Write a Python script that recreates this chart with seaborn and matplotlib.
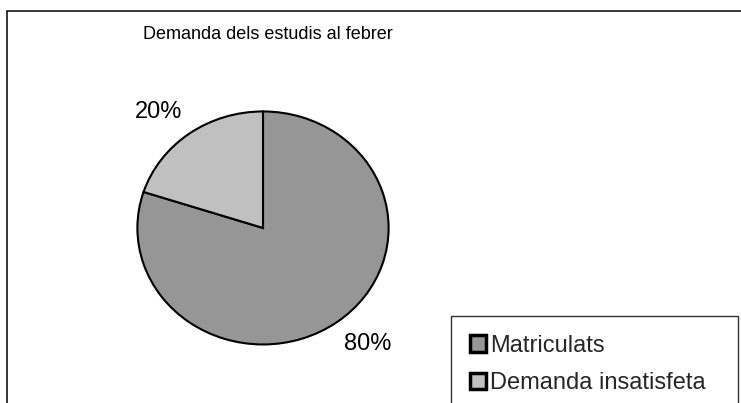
import matplotlib
matplotlib.use('Agg')
import matplotlib.pyplot as plt
import matplotlib.patches as mpatches
import seaborn as sns

# Data
categories = ['Matriculats', 'Demanda insatisfeta']
values = [80, 20]
colors = ['#969696', '#C0C0C0']
title = 'Demanda dels estudis al febrer'

sns.set_theme(style='white')
plt.rcParams['font.family'] = ['Liberation Sans', 'DejaVu Sans']

W, H = 741, 403
fig = plt.figure(figsize=(W / 100, H / 100), dpi=100)

# outer chart border (right and bottom edges fall outside the picture)
fig.patches.append(mpatches.Rectangle((7 / W, -0.1), 2, (H - 11) / H + 0.1,
                                      transform=fig.transFigure, fill=False,
                                      edgecolor='black', linewidth=1.1))

ax = fig.add_axes([106 / W, 0.073, 314 / W, 0.7227])
wedges, texts = ax.pie(values, labels=[f'{v}%' for v in values], colors=colors,
                       startangle=90, counterclock=False, labeldistance=1.1,
                       wedgeprops=dict(edgecolor='black', linewidth=1.5),
                       textprops=dict(fontsize=17, color='black'))
ax.set_aspect('auto')
ax.set_xlim(-1.25, 1.25)
ax.set_ylim(-1.25, 1.25)
for t in texts:
    x, y = t.get_position()
    t.set_position((x, y * 1.12))

fig.text(267.5 / W, (H - 39) / H, title, ha='center', va='baseline',
         fontsize=13, color='black')

leg = fig.legend(wedges, categories, loc='upper left',
                 bbox_to_anchor=(451 / W, (H - 320) / H, 287 / W, 0.01),
                 mode='expand', fontsize=17, frameon=True, fancybox=False,
                 edgecolor='black', borderpad=0.8, handlelength=0.68,
                 handleheight=0.68, handletextpad=0.18, labelspacing=0.65,
                 borderaxespad=0)
leg.get_frame().set_linewidth(1.0)
for h in leg.legend_handles:
    h.set_linewidth(2.5)
    h.set_edgecolor('black')

fig.savefig('out.png', dpi=100)
